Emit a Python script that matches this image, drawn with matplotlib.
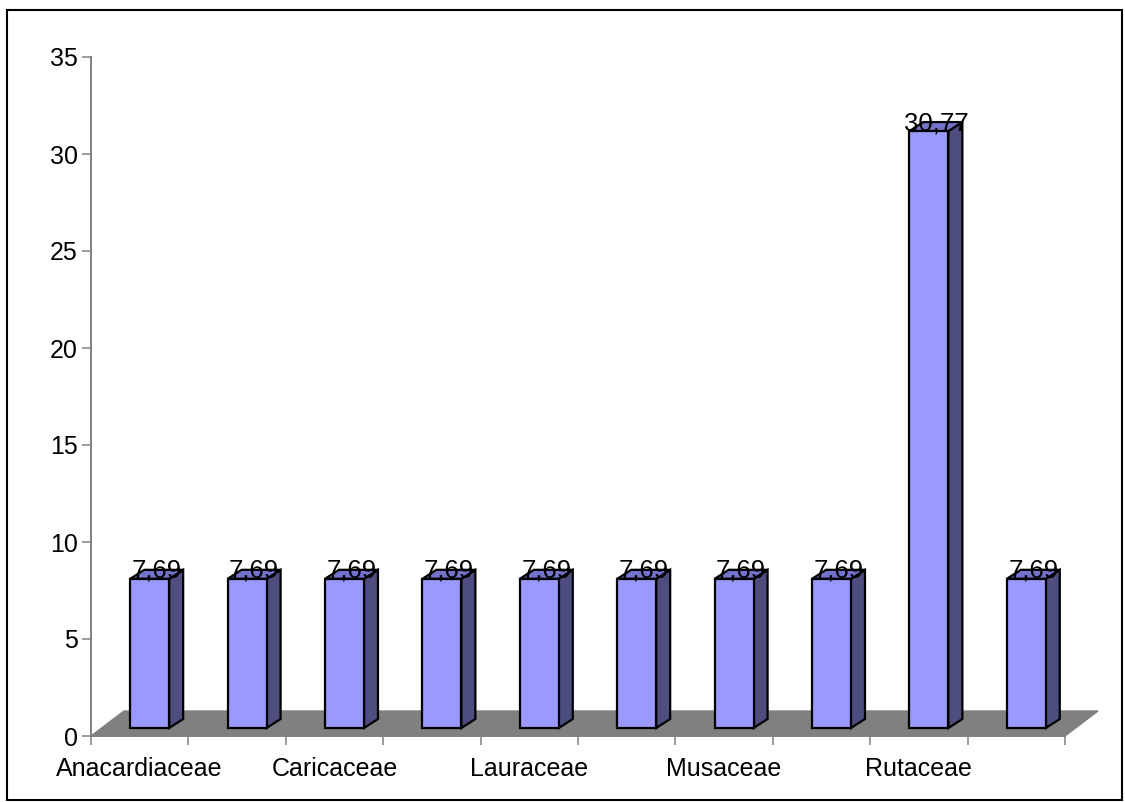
import matplotlib
matplotlib.use("Agg")
import matplotlib.pyplot as plt
from matplotlib.patches import Polygon, Rectangle

plt.rcParams['font.family'] = ['Liberation Sans', 'DejaVu Sans']

categories = ["Anacardiaceae", "", "Caricaceae", "", "Lauraceae", "",
              "Musaceae", "", "Rutaceae", ""]
values = [7.69, 7.69, 7.69, 7.69, 7.69, 7.69, 7.69, 7.69, 30.77, 7.69]
value_labels = ["7,69", "7,69", "7,69", "7,69", "7,69", "7,69", "7,69", "7,69", "30,77", "7,69"]
yticks = [0, 5, 10, 15, 20, 25, 30, 35]

W, H = 1125, 802
fig = plt.figure(figsize=(W / 100, H / 100), dpi=100)
fig.patch.set_facecolor('white')

# axes placement (pixels)
ax_l, ax_r, ax_t, ax_b = 91, 1065, 57, 736
ax = fig.add_axes([ax_l / W, (H - ax_b) / H, (ax_r - ax_l) / W, (ax_b - ax_t) / H])
ax.set_xlim(0, 10)
ax.set_ylim(0, 35)
ax.patch.set_alpha(0)

pxx = (ax_r - ax_l) / 10.0   # pixels per x unit
pxy = (ax_b - ax_t) / 35.0   # pixels per y unit

# 3D offsets (data units)
fdx, fdy = 33 / pxx, 25 / pxy      # floor depth
odx, ody = 10 / pxx, 8 / pxy       # bar front offset from axis front
bdx, bdy = 14 / pxx, 9 / pxy       # bar depth
bw = 0.40

gray = '#808080'
# floor
floor = Polygon([(0, 0), (10, 0), (10 + fdx, fdy), (fdx, fdy)], closed=True,
                facecolor=gray, edgecolor=gray, lw=1, clip_on=False, zorder=1)
ax.add_patch(floor)

front_c = '#9999FF'
side_c = '#4D4D80'
top_c = '#7373CC'
lw = 1.6

xs = [i + 0.5 + odx for i in range(len(values))]
ax.bar(xs, values, width=bw, bottom=ody, color=front_c, edgecolor='black',
       linewidth=lw, zorder=3, clip_on=False)
for x, v, lab in zip(xs, values, value_labels):
    x0, x1 = x - bw / 2, x + bw / 2
    y0, y1 = ody, ody + v
    side = Polygon([(x1, y0), (x1 + bdx, y0 + bdy), (x1 + bdx, y1 + bdy), (x1, y1)],
                   closed=True, facecolor=side_c, edgecolor='black', lw=lw,
                   zorder=2.9, clip_on=False, joinstyle='miter')
    top = Polygon([(x0, y1), (x1, y1), (x1 + bdx, y1 + bdy), (x0 + bdx, y1 + bdy)],
                  closed=True, facecolor=top_c, edgecolor='black', lw=lw,
                  zorder=2.9, clip_on=False, joinstyle='miter')
    ax.add_patch(side)
    ax.add_patch(top)
    ax.text(x + bdx / 2, y1 + 1 / pxy, lab, ha='center', va='baseline',
            fontsize=18.5, color='black', zorder=5, clip_on=False)

# axes styling
for s in ['top', 'right']:
    ax.spines[s].set_visible(False)
for s in ['left', 'bottom']:
    ax.spines[s].set_color(gray)
    ax.spines[s].set_linewidth(1.4)
    ax.spines[s].set_zorder(4)

ax.set_yticks(yticks)
ax.set_yticklabels([str(t) for t in yticks])
ax.tick_params(axis='y', direction='out', length=6.5, width=1.1, color=gray,
               pad=3, labelsize=18, labelcolor='black')

ax.set_xticks([i + 0.5 for i in range(len(categories))])
ax.set_xticklabels(categories)
ax.set_xticks(list(range(len(categories) + 1)), minor=True)
ax.tick_params(axis='x', which='major', length=0, pad=15, labelsize=18,
               labelcolor='black')
ax.tick_params(axis='x', which='minor', direction='out', length=6.5, width=1.1,
               color=gray)

# outer border
fig.add_artist(Rectangle((7 / W, (H - 800) / H), (1122 - 7) / W, (800 - 10) / H,
                         transform=fig.transFigure, fill=False, edgecolor='black',
                         lw=1.5))

fig.savefig('out.png', dpi=100)
